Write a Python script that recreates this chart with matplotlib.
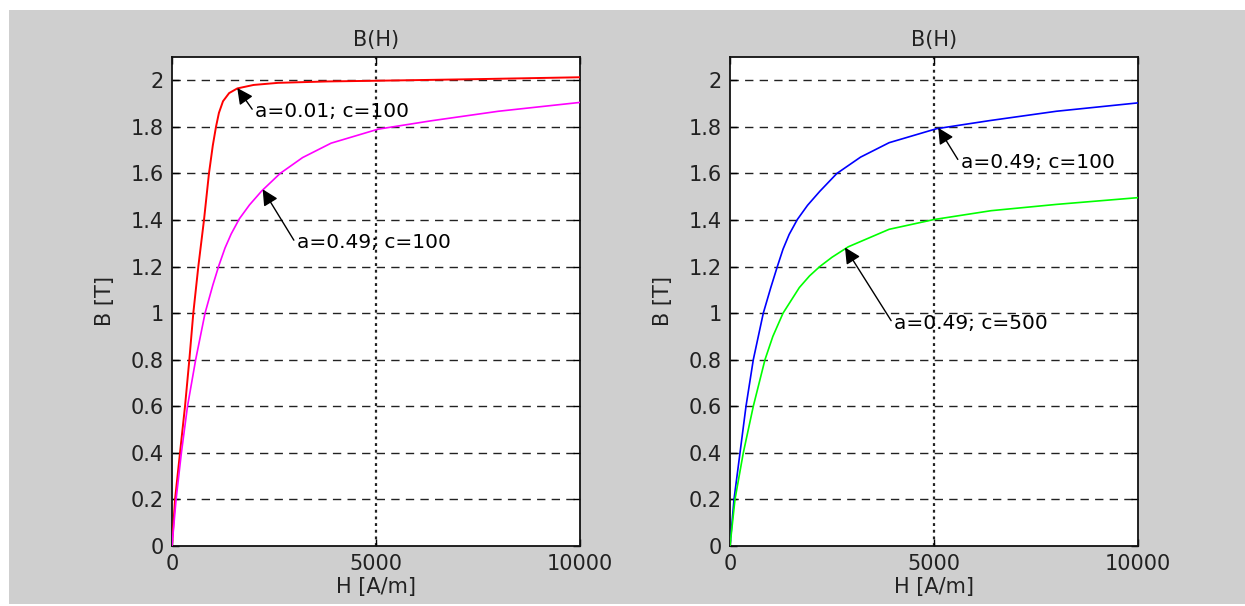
import matplotlib
matplotlib.use("Agg")
import matplotlib.pyplot as plt
from matplotlib.patches import Rectangle
from matplotlib.ticker import FuncFormatter

# curves (H in A/m, B in T)
h_red = [0, 74, 196, 319, 425, 522, 645, 784, 906, 1000, 1078, 1150, 1250, 1400, 1600, 2000, 2600, 3800, 5000, 7500, 10000]
b_red = [0, 0.2, 0.4, 0.6, 0.8, 1.0, 1.2, 1.4, 1.6, 1.72, 1.8, 1.86, 1.91, 1.945, 1.965, 1.98, 1.989, 1.995, 1.998, 2.005, 2.013]

h_mag = [0, 100, 230, 380, 580, 810, 1000, 1150, 1300, 1450, 1650, 1900, 2200, 2650, 3200, 3900, 5050, 6350, 8000, 10000]
b_mag = [0, 0.2, 0.4, 0.6, 0.8, 1.0, 1.12, 1.205, 1.28, 1.34, 1.405, 1.465, 1.525, 1.6, 1.668, 1.73, 1.79, 1.826, 1.867, 1.905]

h_blue = [0, 98, 245, 392, 571, 816, 1000, 1160, 1300, 1450, 1650, 1900, 2200, 2620, 3200, 3900, 5060, 6370, 8000, 10000]
b_blue = [0, 0.2, 0.4, 0.6, 0.8, 1.0, 1.11, 1.2, 1.275, 1.338, 1.402, 1.463, 1.523, 1.6, 1.67, 1.732, 1.792, 1.827, 1.867, 1.903]

h_green = [0, 122, 326, 571, 857, 1050, 1300, 1700, 1950, 2200, 2500, 2900, 3900, 5000, 6400, 8000, 10000]
b_green = [0, 0.2, 0.4, 0.6, 0.8, 0.9, 1.0, 1.11, 1.16, 1.2, 1.24, 1.285, 1.36, 1.402, 1.44, 1.467, 1.496]

x_ticks = [0, 5000, 10000]
y_ticks = [0, 0.2, 0.4, 0.6, 0.8, 1.0, 1.2, 1.4, 1.6, 1.8, 2.0]

# (label, arrow tip, text position)
notes_left = [("a=0.01; c=100", (1600, 1.967), (2033, 1.867)),
              ("a=0.49; c=100", (2222, 1.532), (3055, 1.302))]
notes_right = [("a=0.49; c=100", (5104, 1.796), (5652, 1.649)),
               ("a=0.49; c=500", (2818, 1.282), (4018, 0.957))]

plt.rcParams['font.family'] = 'DejaVu Sans'
plt.rcParams['font.size'] = 15
txt = '#222222'

fig = plt.figure(figsize=(12.45, 6.06), dpi=100, facecolor='white')
W, Hpx = 1245, 606
# grey figure panel
fig.patches.append(Rectangle((9 / W, 1 - 604 / Hpx), 1 - 9 / W, (604 - 10) / Hpx,
                             transform=fig.transFigure, facecolor='#cfcfcf',
                             edgecolor='none', zorder=-10))

ax1 = fig.add_axes([172 / W, 60 / Hpx, 408 / W, 489 / Hpx])
ax2 = fig.add_axes([730 / W, 60 / Hpx, 408 / W, 489 / Hpx])


def setup(ax):
    ax.set_xlim(0, 10000)
    ax.set_ylim(0, 2.1)
    ax.set_xticks(x_ticks)
    ax.set_yticks(y_ticks)
    ax.yaxis.set_major_formatter(FuncFormatter(lambda v, p: '%g' % round(v, 2)))
    ax.tick_params(direction='in', length=5, width=1, top=True, right=True,
                   labelsize=15, labelcolor=txt, pad=6)
    for s in ax.spines.values():
        s.set_linewidth(1.3)
        s.set_color('#111111')
    for y in y_ticks[1:]:
        ax.axhline(y, color='#222222', lw=1.0, ls=(0, (6, 4.5)), zorder=1)
    ax.axvline(5000, color='#222222', lw=1.6, ls=(0, (1.3, 1.7)), zorder=1)
    ax.set_title('B(H)', fontsize=15, color=txt, pad=8)
    ax.set_xlabel('H [A/m]', fontsize=15, color=txt)
    ax.set_ylabel('B [T]', fontsize=15, color=txt)
    ax.xaxis.set_label_coords(0.5, -0.064)
    ax.yaxis.set_label_coords(-0.14, 0.5)


def note(ax, label, tip, pos):
    ax.annotate(label, xy=tip, xytext=pos, ha='left', va='center',
                fontsize=14.5, color='black', zorder=5,
                arrowprops=dict(arrowstyle='-|>', color='black', lw=1.0,
                                mutation_scale=24, shrinkA=0, shrinkB=0,
                                relpos=(0, 0.4)))


setup(ax1)
ax1.plot(h_red, b_red, color='#ff0000', lw=1.4, zorder=3)
ax1.plot(h_mag, b_mag, color='#ff00ff', lw=1.2, zorder=3)
for n in notes_left:
    note(ax1, *n)

setup(ax2)
ax2.plot(h_blue, b_blue, color='#0000ff', lw=1.2, zorder=3)
ax2.plot(h_green, b_green, color='#00ff00', lw=1.2, zorder=3)
for n in notes_right:
    note(ax2, *n)

fig.savefig('out.png', dpi=100, facecolor='white')
